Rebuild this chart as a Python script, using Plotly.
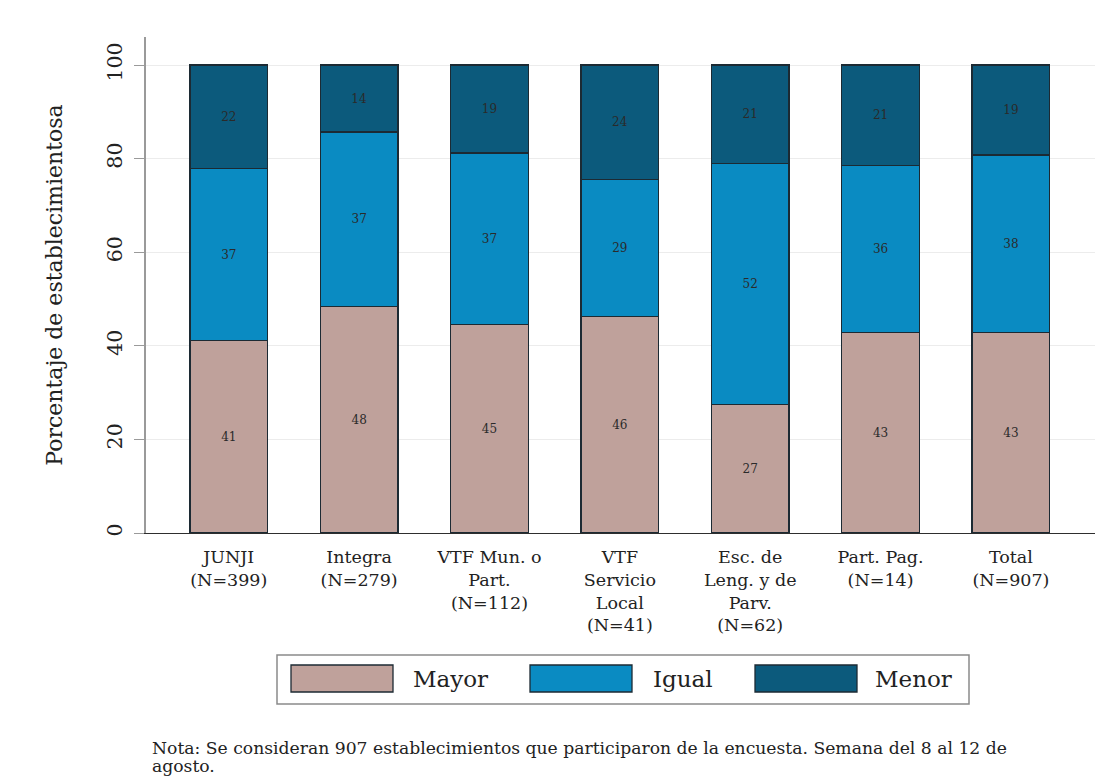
import plotly.graph_objects as go

categories = ["JUNJI<br>(N=399)", "Integra<br>(N=279)", "VTF Mun. o<br>Part.<br>(N=112)",
              "VTF<br>Servicio<br>Local<br>(N=41)", "Esc. de<br>Leng. y de<br>Parv.<br>(N=62)",
              "Part. Pag.<br>(N=14)", "Total<br>(N=907)"]
mayor = [41.1, 48.4, 44.6, 46.3, 27.4, 42.9, 42.9]
igual = [36.8, 37.3, 36.6, 29.3, 51.6, 35.7, 37.9]
menor = [22.1, 14.3, 18.8, 24.4, 21.0, 21.4, 19.2]
series = [("Mayor", mayor, "#bfa19b"), ("Igual", igual, "#0a8bc2"), ("Menor", menor, "#0c5a7c")]
yticks = [0, 20, 40, 60, 80, 100]
note_lines = ["Nota: Se consideran 907 establecimientos que participaron de la encuesta. Semana del 8 al 12 de",
              "agosto."]

SERIF = "DejaVu Serif, Liberation Serif, serif"
EDGE = "#1c2a33"
TXT = "#222222"
x = list(range(len(categories)))
fig = go.Figure()
for name, vals, col in series:
    fig.add_trace(go.Bar(
        x=x, y=vals, name=name, width=0.595,
        marker=dict(color=col, line=dict(color=EDGE, width=1.3)),
        text=[f"{v:.0f}" for v in vals], texttemplate="%{text}",
        textposition="inside", insidetextanchor="middle",
        textfont=dict(family=SERIF, size=12, color="#2a2a2a"),
        textangle=0,
    ))

# the page body adds an 8px offset; compensate so the figure fills the window
OFF = 8
W, H = 1109 - OFF, 784 - OFF
L, T = 146 - OFF, 37 - OFF
R = W - (1095 - OFF)
B = H - (533 - OFF)
pw, ph = W - L - R, H - T - B
def px(xp):  # reference-window pixel -> paper x
    return (xp - OFF - L) / pw
def py(yp):  # reference-window pixel -> paper y
    return (H - B - (yp - OFF)) / ph

fig.update_layout(
    barmode="stack",
    width=W, height=H,
    margin=dict(l=L, r=R, t=T, b=B, autoexpand=False),
    paper_bgcolor="white", plot_bgcolor="white",
    font=dict(family=SERIF, color=TXT),
    uniformtext=dict(minsize=12, mode="show"),
    showlegend=False,
)
fig.update_xaxes(
    range=[-0.635, 6.645], tickmode="array", tickvals=x, ticktext=categories,
    tickfont=dict(family=SERIF, size=17.5, color=TXT),
    showline=True, linecolor="#2e2e2e", linewidth=1.3, ticks="", showgrid=False,
    zeroline=False, automargin=False, ticklabelstandoff=8,
)
fig.update_yaxes(
    range=[0, 106], tickmode="array", tickvals=yticks,
    tickangle=-90, tickfont=dict(family=SERIF, size=20.5, color=TXT),
    ticks="outside", ticklen=10, tickcolor="#9a9a9a", tickwidth=1.3,
    showline=True, linecolor="#9a9a9a", linewidth=1.5,
    showgrid=True, gridcolor="#ececec", gridwidth=1, zeroline=False,
    automargin=False, ticklabelstandoff=4,
    title=dict(text="Porcentaje de establecimientosa", standoff=34,
               font=dict(family=SERIF, size=22, color=TXT)),
)

# legend box drawn in the bottom margin
shapes = [dict(type="rect", xref="paper", yref="paper",
               x0=px(277), x1=px(969), y0=py(704), y1=py(655),
               line=dict(color="#8a8a8a", width=1.5), fillcolor="white")]
sw_x = [291, 530, 755]
tx_x = [411, 651, 873]
for (name, vals, col), sx, tx in zip(series, sw_x, tx_x):
    shapes.append(dict(type="rect", xref="paper", yref="paper",
                       x0=px(sx), x1=px(sx + 102), y0=py(692), y1=py(665),
                       line=dict(color=EDGE, width=1.3), fillcolor=col))
    fig.add_annotation(text=name, xref="paper", yref="paper", x=px(tx), y=py(679),
                       xanchor="left", yanchor="middle", showarrow=False,
                       font=dict(family=SERIF, size=23, color=TXT))
fig.update_layout(shapes=shapes)

for line, yl in zip(note_lines, [748, 766]):
    fig.add_annotation(
        text=line, xref="paper", yref="paper", x=px(150), y=py(yl),
        xanchor="left", yanchor="middle", align="left", showarrow=False,
        font=dict(family=SERIF, size=17.2, color=TXT),
    )
fig.write_html("out.html")
